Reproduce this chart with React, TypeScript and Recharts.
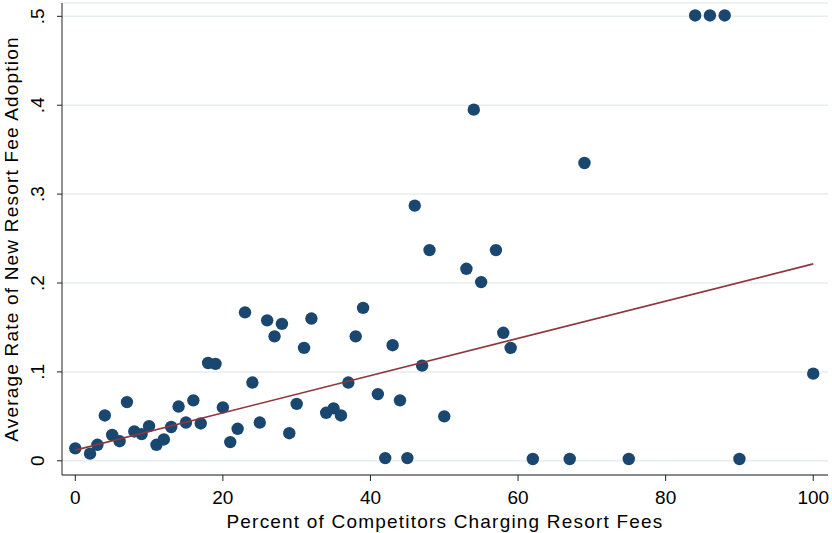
import { ScatterChart, Scatter, XAxis, YAxis, CartesianGrid } from 'recharts';

// Percent of competitors charging resort fees (x) and average adoption rate (y)
const pctCompetitors = [
  0, 2, 3, 4, 5, 6, 7, 8, 9, 10, 11, 12, 13, 14, 15, 16, 17, 18, 19, 20, 21, 22, 23, 24, 25,
  26, 27, 28, 29, 30, 31, 32, 34, 35, 36, 37, 38, 39, 41, 42, 43, 44, 45, 46, 47, 48, 50, 53,
  54, 55, 57, 58, 59, 62, 67, 69, 75, 84, 86, 88, 90, 100,
];
const adoptionRate = [
  0.014, 0.008, 0.018, 0.051, 0.029, 0.022, 0.066, 0.033, 0.03, 0.039, 0.018, 0.024, 0.038,
  0.061, 0.043, 0.068, 0.042, 0.11, 0.109, 0.06, 0.021, 0.036, 0.167, 0.088, 0.043, 0.158,
  0.14, 0.154, 0.031, 0.064, 0.127, 0.16, 0.054, 0.059, 0.051, 0.088, 0.14, 0.172, 0.075,
  0.003, 0.13, 0.068, 0.003, 0.287, 0.107, 0.237, 0.05, 0.216, 0.395, 0.201, 0.237, 0.144,
  0.127, 0.002, 0.002, 0.335, 0.002, 0.501, 0.501, 0.501, 0.002, 0.098,
];

// fitted linear trend, endpoints
const fitX = [0, 100];
const fitY = [0.012, 0.2215];

const xTicks = [0, 20, 40, 60, 80, 100];
const yTicks = [0, 0.1, 0.2, 0.3, 0.4, 0.5];

const points = pctCompetitors.map((x, i) => ({ x, y: adoptionRate[i] }));
const fit = fitX.map((x, i) => ({ x, y: fitY[i] }));

const FONT = '"Liberation Sans", Arial, Helvetica, sans-serif';
const NAVY = '#1a476f';
const MAROON = '#90353b';

const fmtY = (v: number) => (v === 0 ? '0' : '.' + Math.round(v * 10));

const YTick = (props: any) => {
  const { x, y, payload } = props;
  return (
    <text
      transform={`translate(${x},${y}) rotate(-90)`}
      textAnchor="middle"
      fontSize={19}
      fontFamily={FONT}
      fill="#000"
    >
      {fmtY(payload.value)}
    </text>
  );
};

const Dot = (props: any) => <circle cx={props.cx} cy={props.cy} r={6.2} fill={NAVY} />;

export default function App() {
  return (
    <div style={{ position: 'absolute', left: 0, top: 0, background: '#fff' }}>
      <ScatterChart width={832} height={533} margin={{ top: 3, right: 4, bottom: 0, left: 0 }}>
        <CartesianGrid vertical={false} stroke="#e6eef1" strokeWidth={1.5} />
        <XAxis
          type="number"
          dataKey="x"
          domain={[-1.8, 102]}
          ticks={xTicks}
          height={58}
          tickSize={6}
          tickMargin={10}
          stroke="#222"
          tick={{ fontSize: 19, fontFamily: FONT, fill: '#000' }}
          label={{
            value: 'Percent of Competitors Charging Resort Fees',
            position: 'insideBottom',
            offset: 5.5,
            fontSize: 19,
            letterSpacing: 1.2,
            fontFamily: FONT,
            fill: '#000',
          }}
        />
        <YAxis
          type="number"
          dataKey="y"
          domain={[-0.016, 0.515]}
          ticks={yTicks}
          width={62}
          tickSize={5}
          tickMargin={13}
          stroke="#222"
          tick={<YTick />}
          label={{
            content: ({ viewBox }: any) => (
              <text
                transform={`translate(18,${viewBox.y + viewBox.height / 2}) rotate(-90)`}
                textAnchor="middle"
                fontSize={19}
                letterSpacing={1.2}
                fontFamily={FONT}
                fill="#000"
              >
                Average Rate of New Resort Fee Adoption
              </text>
            ),
          }}
        />
        <Scatter data={points} shape={<Dot />} isAnimationActive={false} />
        <Scatter
          data={fit}
          line={{ stroke: MAROON, strokeWidth: 1.6 }}
          shape={() => <g />}
          isAnimationActive={false}
        />
      </ScatterChart>
    </div>
  );
}
